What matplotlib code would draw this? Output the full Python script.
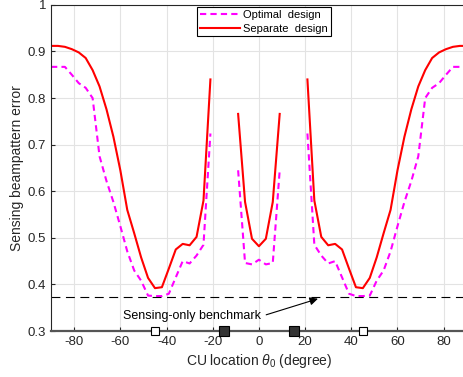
import numpy as np
import matplotlib
matplotlib.use("Agg")
import matplotlib.pyplot as plt

plt.rcParams['font.family'] = ['Liberation Sans', 'DejaVu Sans']
plt.rcParams['mathtext.fontset'] = 'custom'
plt.rcParams['mathtext.it'] = 'Liberation Sans:italic'
plt.rcParams['mathtext.rm'] = 'Liberation Sans'
plt.rcParams['axes.unicode_minus'] = False

# CU location grid (degree), step 3
theta = np.arange(-90, 91, 3)

# left half values from -90 to 0 (mirrored for the right half)
sep_half = [0.912, 0.912, 0.910, 0.905, 0.898, 0.886, 0.860, 0.825, 0.776, 0.717,
            0.645, 0.560, 0.510, 0.458, 0.414, 0.392, 0.394, 0.434, 0.475, 0.487,
            0.484, 0.502, 0.580, 0.840, np.nan, np.nan, np.nan, 0.766, 0.577, 0.498,
            0.482]
opt_half = [0.867, 0.867, 0.867, 0.850, 0.832, 0.822, 0.800, 0.675, 0.622, 0.577,
            0.525, 0.471, 0.430, 0.408, 0.376, 0.375, 0.375, 0.380, 0.415, 0.450,
            0.445, 0.462, 0.485, 0.724, np.nan, np.nan, np.nan, 0.645, 0.446, 0.443,
            0.453]
separate = np.array(sep_half + sep_half[-2::-1])
optimal = np.array(opt_half + opt_half[-2::-1])

benchmark = 0.373
open_marks = [-45, 45]
filled_marks = [-15, 15]

fig = plt.figure(figsize=(4.64, 3.77), dpi=100)
ax = fig.add_axes([0.110, 0.122, 0.896, 0.865])

ax.plot(theta, optimal, color="#ff00ff", lw=1.5, ls=(0, (3, 2)), label="Optimal  design")
ax.plot(theta, separate, color="#ff0000", lw=1.5, label="Separate  design")
ax.plot([-90, 90], [benchmark, benchmark], color="k", lw=0.8, ls=(0, (8, 5)))

ax.plot(open_marks, [0.3, 0.3], ls="none", marker="s", ms=5.5, mfc="white",
        mec="k", mew=0.8, clip_on=False, zorder=5)
ax.plot(filled_marks, [0.3, 0.3], ls="none", marker="s", ms=6.5, mfc="#333333",
        mec="k", mew=0.8, clip_on=False, zorder=5)

ax.annotate("", xy=(26.7, 0.371), xytext=(2.0, 0.333),
            arrowprops=dict(arrowstyle="-|>", color="k", lw=0.8, mutation_scale=12))
ax.text(-59, 0.333, "Sensing-only benchmark", fontsize=9, va="center", ha="left")

ax.set_xlim(-90, 90)
ax.set_ylim(0.3, 1.0)
ax.set_xticks(np.arange(-80, 81, 20))
ax.set_yticks(np.arange(0.3, 1.01, 0.1))
ax.set_yticklabels(["0.3", "0.4", "0.5", "0.6", "0.7", "0.8", "0.9", "1"])
ax.tick_params(direction="in", labelsize=9.5, colors="#262626", length=3)
ax.grid(True, color="#e3e3e3", lw=0.8)
ax.set_axisbelow(True)
for s in ax.spines.values():
    s.set_color("#262626")
    s.set_linewidth(0.8)
ax.spines["bottom"].set_linewidth(1.6)
ax.spines["bottom"].set_color("#555555")

ax.set_xlabel(r"CU location $\theta_0$ (degree)", fontsize=10, color="#262626", labelpad=3)
ax.set_ylabel("Sensing beampattern error", fontsize=10, color="#262626", labelpad=3)

leg = ax.legend(loc="upper left", bbox_to_anchor=(0.352, 0.994), fontsize=8,
                fancybox=False, edgecolor="k", framealpha=1, borderaxespad=0,
                handlelength=3.6, handletextpad=0.3, labelspacing=0.35, borderpad=0.25)
leg.get_frame().set_linewidth(0.8)

fig.savefig("out.png", dpi=100)
